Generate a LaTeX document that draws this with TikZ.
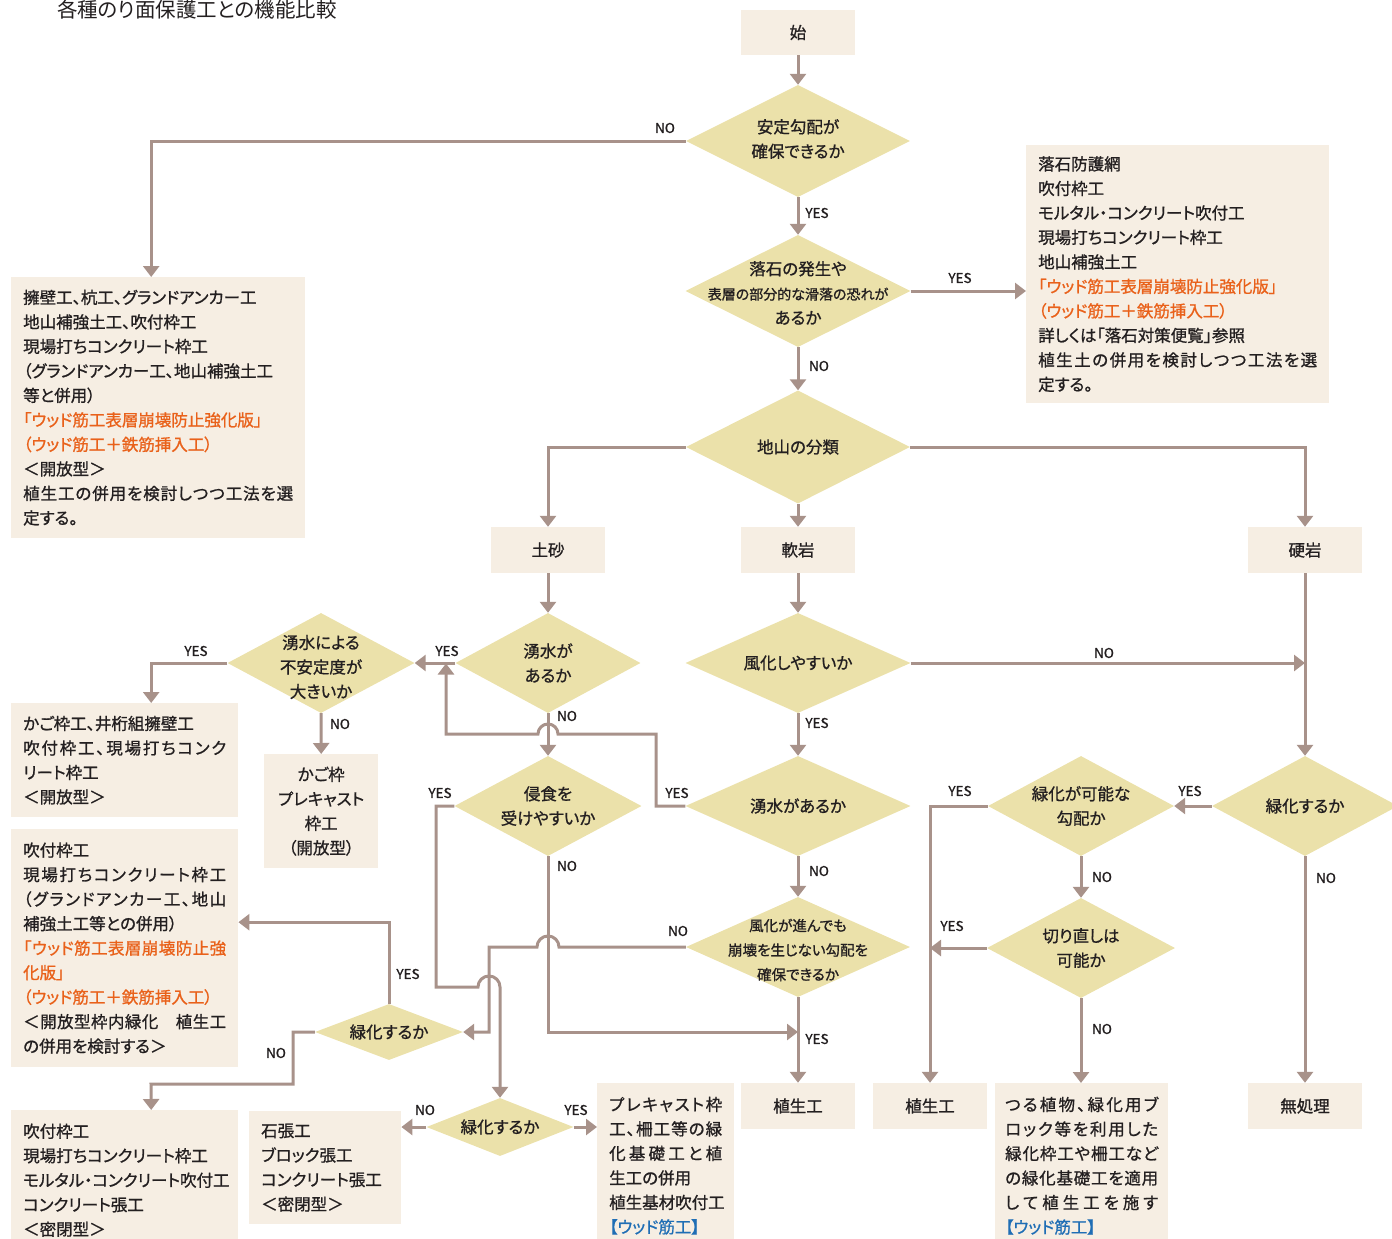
\documentclass[tikz,border=0pt]{standalone}
\usepackage{fontspec}
\setmainfont{Noto Sans CJK JP}[RawFeature=+palt, FakeBold=1.0]
\newfontfamily\titlefont{Noto Sans CJK JP}[RawFeature=+palt]
\usetikzlibrary{shapes.geometric,arrows.meta}
\definecolor{boxc}{HTML}{F6EEE3}
\definecolor{diac}{HTML}{EBE1AA}
\definecolor{lnc}{HTML}{A8928A}
\definecolor{orc}{HTML}{E9611A}
\definecolor{blc}{HTML}{1F6EB5}
\definecolor{txc}{HTML}{231F20}
\def\jlaux#1{\ifx\relax#1\else\hfil#1\expandafter\jlaux\fi}
\def\jlfirst#1{#1\jlaux}
\newcommand\jl[2]{\leavevmode\hbox to #1{\jlfirst#2\relax}}
\begin{document}
\begin{tikzpicture}[x=1pt,y=-1pt,
  boxn/.style={rectangle, fill=boxc, inner sep=0pt, text=txc, font=\fontsize{16.5}{24.5}\selectfont},
  textbox/.style={boxn, anchor=north west, align=left, inner xsep=12pt, inner ysep=0pt},
  dia/.style={diamond, fill=diac, inner sep=0pt},
  dtxt/.style={align=center, text=txc, font=\fontsize{16.5}{24.5}\selectfont, inner sep=0pt, text width=210pt},
  yn/.style={text=txc, font=\fontsize{13.5}{14}\selectfont, inner sep=0pt},
  conn/.style={draw=lnc, line width=3pt, -{Triangle[width=16pt,length=11pt]}},
]
\useasboundingbox (0,0) rectangle (1392,1239);
\clip (0,0) rectangle (1392,1239);

% title
\node[anchor=base west, font=\titlefont\fontsize{20.5}{22}\selectfont, text=txc, inner sep=0pt] (title) at (57,17.5) {各種のり面保護工との機能比較};

% simple boxes
\node[boxn, minimum width=114pt, minimum height=45pt] (s) at (798,32.5) {始};
\node[boxn, minimum width=114pt, minimum height=46pt] (ts) at (548,550) {土砂};
\node[boxn, minimum width=114pt, minimum height=46pt] (nk) at (798,550) {軟岩};
\node[boxn, minimum width=114pt, minimum height=46pt] (kg) at (1305,550) {硬岩};
\node[boxn, minimum width=114pt, minimum height=46pt] (bs1) at (798,1106) {植生工};
\node[boxn, minimum width=114pt, minimum height=46pt] (bs2) at (930,1106) {植生工};
\node[boxn, minimum width=114pt, minimum height=46pt] (bmu) at (1305,1106) {無処理};

% text boxes
\node[textbox, text width=279pt, minimum width=303pt, minimum height=258pt] (bR) at (1026,145)
 {落石防護網\\吹付枠工\\モルタル・コンクリート吹付工\\現場打ちコンクリート枠工\\地山補強土工\\\textcolor{orc}{「ウッド筋工表層崩壊防止強化版」}\\\textcolor{orc}{（ウッド筋工＋鉄筋挿入工）}\\詳しくは「落石対策便覧」参照\\\jl{279pt}{植生土の併用を検討しつつ工法を選}\\定する。};
\node[textbox, text width=270pt, minimum width=294pt, minimum height=261pt] (bL) at (11,277)
 {擁壁工、杭工、グランドアンカー工\\地山補強土工、吹付枠工\\現場打ちコンクリート枠工\\（グランドアンカー工、地山補強土工\\等と併用）\\\textcolor{orc}{「ウッド筋工表層崩壊防止強化版」}\\\textcolor{orc}{（ウッド筋工＋鉄筋挿入工）}\\＜開放型＞\\\jl{270pt}{植生工の併用を検討しつつ工法を選}\\定する。};
\node[textbox, text width=203pt, minimum width=227pt, minimum height=114pt] (bk1) at (11,703)
 {かご枠工、井桁組擁壁工\\\jl{203pt}{吹付枠工、現場打ちコンク}\\リート枠工\\＜開放型＞};
\node[textbox, align=center, inner xsep=7pt, text width=100pt, minimum width=114pt, minimum height=114pt] (bk2) at (264,754)
 {かご枠\\プレキャスト\\枠工\\（開放型）};
\node[textbox, text width=203pt, minimum width=227pt, minimum height=238pt] (bm) at (11,829)
 {吹付枠工\\\jl{203pt}{現場打ちコンクリート枠工}\\\jl{203pt}{（グランドアンカー工、地山}\\補強土工等との併用）\\\textcolor{orc}{\jl{203pt}{「ウッド筋工表層崩壊防止強}}\\\textcolor{orc}{化版」}\\\textcolor{orc}{（ウッド筋工＋鉄筋挿入工）}\\\jl{203pt}{＜開放型枠内緑化　植生工}\\の併用を検討する＞};
\node[textbox, text width=203pt, minimum width=227pt, minimum height=140pt] (bb) at (11,1110)
 {吹付枠工\\現場打ちコンクリート枠工\\モルタル・コンクリート吹付工\\コンクリート張工\\＜密閉型＞};
\node[textbox, text width=128pt, minimum width=152pt, minimum height=113pt] (bi) at (249,1111)
 {石張工\\ブロック張工\\コンクリート張工\\＜密閉型＞};
\node[textbox, text width=113pt, minimum width=137pt, minimum height=165pt] (bp) at (597,1083)
 {\jl{113pt}{プレキャスト枠}\\\jl{113pt}{工、柵工等の緑}\\\jl{113pt}{化基礎工と植}\\生工の併用\\\jl{113pt}{植生基材吹付工}\\\textcolor{blc}{【ウッド筋工】}};
\node[textbox, inner xsep=10pt, text width=153pt, minimum width=173pt, minimum height=165pt] (bt) at (995,1083)
 {\jl{153pt}{つる植物、緑化用ブ}\\\jl{153pt}{ロック等を利用した}\\\jl{153pt}{緑化枠工や柵工など}\\\jl{153pt}{の緑化基礎工を適用}\\\jl{153pt}{して植生工を施す}\\\textcolor{blc}{【ウッド筋工】}};

% diamonds
\node[dia, minimum width=224pt, minimum height=112pt] (d1) at (798,141) {};
\node[dia, minimum width=225pt, minimum height=112pt] (d2) at (798,291) {};
\node[dia, minimum width=224pt, minimum height=113pt] (d3) at (798,447) {};
\node[dia, minimum width=185pt, minimum height=100pt] (dy1) at (548,663) {};
\node[dia, minimum width=225pt, minimum height=100pt] (dfu) at (798,663) {};
\node[dia, minimum width=187pt, minimum height=100pt] (dy2) at (321,663) {};
\node[dia, minimum width=187pt, minimum height=100pt] (dsh) at (548,806) {};
\node[dia, minimum width=225pt, minimum height=100pt] (dy3) at (798,806) {};
\node[dia, minimum width=186pt, minimum height=100pt] (drr) at (1305,806) {};
\node[dia, minimum width=186pt, minimum height=100pt] (dkano) at (1081,806) {};
\node[dia, minimum width=224pt, minimum height=100pt] (dfu2) at (798,947) {};
\node[dia, minimum width=188pt, minimum height=100pt] (dkiri) at (1081,948) {};
\node[dia, minimum width=148pt, minimum height=56pt] (drm) at (389,1032) {};
\node[dia, minimum width=147pt, minimum height=58pt] (drb) at (500,1127) {};

% diamond texts
\node[dtxt] (d1t) at (798,139) {安定勾配が\\確保できるか};
\node[dtxt] (d2t) at (798,293) {落石の発生や\\{\fontsize{14}{24.5}\selectfont 表層の部分的な滑落の恐れが}\\あるか};
\node[dtxt] (d3t) at (d3) {地山の分類};
\node[dtxt] (dy1t) at (dy1) {湧水が\\あるか};
\node[dtxt] (dfut) at (dfu) {風化しやすいか};
\node[dtxt] (dy2t) at (321,667) {湧水による\\不安定度が\\大きいか};
\node[dtxt] (dsht) at (dsh) {侵食を\\受けやすいか};
\node[dtxt] (dy3t) at (dy3) {湧水があるか};
\node[dtxt] (drrt) at (drr) {緑化するか};
\node[dtxt] (dkanot) at (dkano) {緑化が可能な\\勾配か};
\node[dtxt, font=\fontsize{14.5}{24.5}\selectfont] (dfu2t) at (798,950) {風化が進んでも\\崩壊を生じない勾配を\\確保できるか};
\node[dtxt] (dkirit) at (dkiri) {切り直しは\\可能か};
\node[dtxt] (drmt) at (drm) {緑化するか};
\node[dtxt] (drbt) at (drb) {緑化するか};

% junction coordinates
\coordinate (j1) at (446,663.5);
\coordinate (j2) at (798,1032);
\coordinate (j3) at (1305,663);

% connectors
\draw[conn] (s.south) -- (d1.north);
\draw[conn] (d1.west) -| ([xshift=-7pt]bL.north);
\draw[conn] (d1.south) -- (d2.north);
\draw[conn] (d2.east) -- (d2.east -| bR.west);
\draw[conn] (d2.south) -- (d3.north);
\draw[conn] (d3.west) -| (ts.north);
\draw[conn] (d3.east) -| (kg.north);
\draw[conn] (d3.south) -- (nk.north);
\draw[conn] (ts.south) -- (dy1.north);
\draw[conn] (nk.south) -- (dfu.north);
\draw[conn] (kg.south) -- (drr.north);
\draw[conn] (dy1.west) -- (dy2.east);
\draw[conn] (dy2.west) -| ([xshift=26.5pt]bk1.north);
\draw[conn] (dy2.south) -- (bk2.north);
\draw[conn] (dy1.south) -- (dsh.north);
\draw[conn] (dy3.west) -| (656,734) -- (558,734) arc[start angle=0,end angle=180,radius=10pt] -- (446,734) -- (j1);
\draw[conn] (dfu.south) -- (dy3.north);
\draw[conn] (dfu.east) -- (j3);
\draw[conn] (dy3.south) -- (dfu2.north);
\draw[conn] (dfu2.west) -- (559,947) arc[start angle=0,end angle=180,radius=11pt] -- (489,947) -- (489,1032) -- (drm.east);
\draw[conn] (dsh.west) -- (436,806) -- (436,987) -- (478,987) arc[start angle=180,end angle=0,radius=11pt] -- (drb.north);
\draw[conn] (dsh.south) -- (548,1032) -- (j2);
\draw[conn] (dfu2.south) -- (bs1.north);
\draw[conn] (drm.north) |- ([yshift=26pt]bm.east);
\draw[conn] (drm.west) -- (293,1032) -- (293,1084) -- (151,1084) -- ([xshift=26.5pt]bb.north);
\draw[conn] (drb.west) -- (drb.west -| bi.east);
\draw[conn] (drb.east) -- (drb.east -| bp.west);
\draw[conn] (drr.west) -- (dkano.east);
\draw[conn] (dkano.west) -| (bs2.north);
\draw[conn] (dkano.south) -- (dkiri.north);
\draw[conn] (dkiri.west) -- (dkiri.west -| bs2.north);
\draw[conn] (dkiri.south) -- (dkiri.south |- bt.north);
\draw[conn] (drr.south) -- (bmu.north);

% YES / NO labels
\node[yn] (l1) at (665,128) {NO};
\node[yn] (l2) at (817,213) {YES};
\node[yn] (l3) at (960,278) {YES};
\node[yn] (l4) at (819,366) {NO};
\node[yn] (l5) at (447,651) {YES};
\node[yn] (l6) at (196,651) {YES};
\node[yn] (l7) at (340,724) {NO};
\node[yn] (l8) at (567,716) {NO};
\node[yn] (l9) at (677,793) {YES};
\node[yn] (l10) at (817,723) {YES};
\node[yn] (l11) at (1104,653) {NO};
\node[yn] (l12) at (819,871) {NO};
\node[yn] (l13) at (678,931) {NO};
\node[yn] (l14) at (440,793) {YES};
\node[yn] (l15) at (567,866) {NO};
\node[yn] (l16) at (817,1039) {YES};
\node[yn] (l17) at (408,974) {YES};
\node[yn] (l18) at (276,1053) {NO};
\node[yn] (l19) at (425,1110) {NO};
\node[yn] (l20) at (576,1110) {YES};
\node[yn] (l21) at (1190,791) {YES};
\node[yn] (l22) at (960,791) {YES};
\node[yn] (l23) at (1102,877) {NO};
\node[yn] (l24) at (952,926) {YES};
\node[yn] (l25) at (1102,1029) {NO};
\node[yn] (l26) at (1326,878) {NO};
\end{tikzpicture}
\end{document}
